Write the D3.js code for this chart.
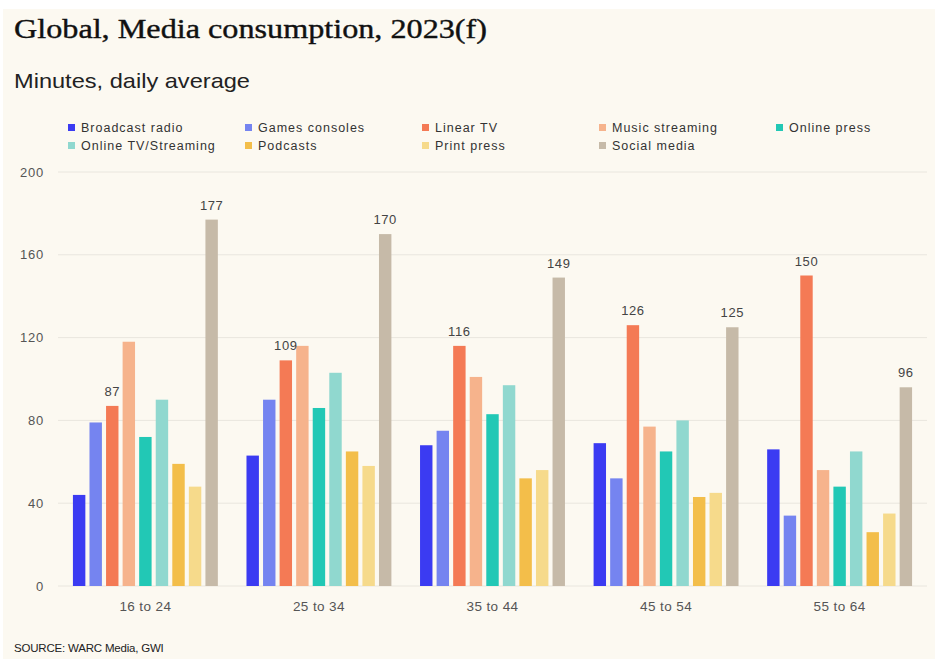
<!DOCTYPE html>
<html lang="en">
<head>
<meta charset="UTF-8">
<title>Global, Media consumption, 2023(f)</title>
<style>
body { margin: 0; background: #fff; }
svg { display: block; }
.title { font: 28px "Liberation Serif", serif; fill: #111; }
.subtitle { font: 21px "Liberation Sans", sans-serif; fill: #222; }
.legend text { font: 12.5px "Liberation Sans", sans-serif; fill: #333; letter-spacing: 1px; }
.axis text { font: 13px "Liberation Sans", sans-serif; fill: #555; letter-spacing: 0.8px; }
.label { font: 13px "Liberation Sans", sans-serif; fill: #444; letter-spacing: 0.6px; }
.source { font: 11.5px "Liberation Sans", sans-serif; fill: #222; letter-spacing: -0.2px; }
</style>
</head>
<body>
<svg width="935" height="659"></svg>
<script src="https://d3js.org/d3.v7.min.js"></script>
<script>
var ageGroups = ["16 to 24", "25 to 34", "35 to 44", "45 to 54", "55 to 64"];
var seriesNames = ["Broadcast radio", "Games consoles", "Linear TV", "Music streaming", "Online press",
                   "Online TV/Streaming", "Podcasts", "Print press", "Social media"];
var seriesColors = ["#3b3bf2", "#7584f0", "#f47a55", "#f6b38c", "#22c8b5",
                    "#90d8cf", "#f3be4a", "#f6da8b", "#c6baa8"];

// values per series, one per age group
var broadcastRadio = [44, 63, 68, 69, 66];
var gamesConsoles  = [79, 90, 75, 52, 34];
var linearTV       = [87, 109, 116, 126, 150];
var musicStreaming = [118, 116, 101, 77, 56];
var onlinePress    = [72, 86, 83, 65, 48];
var onlineTV       = [90, 103, 97, 80, 65];
var podcasts       = [59, 65, 52, 43, 26];
var printPress     = [48, 58, 56, 45, 35];
var socialMedia    = [177, 170, 149, 125, 96];
var seriesValues = [broadcastRadio, gamesConsoles, linearTV, musicStreaming, onlinePress,
                    onlineTV, podcasts, printPress, socialMedia];
var labelled = ["Linear TV", "Social media"];
var yTicks = [0, 40, 80, 120, 160, 200];

var svg = d3.select("svg"),
    width = +svg.attr("width"),
    height = +svg.attr("height");

svg.append("rect")
    .attr("x", 3).attr("y", 9)
    .attr("width", width - 3).attr("height", height - 9)
    .attr("fill", "#fcf9f1");

svg.append("text").attr("class", "title").attr("x", 14).attr("y", 38)
    .attr("textLength", 473).attr("lengthAdjust", "spacingAndGlyphs")
    .style("stroke", "#111").style("stroke-width", 0.4)
    .text("Global, Media consumption, 2023(f)");
svg.append("text").attr("class", "subtitle").attr("x", 14).attr("y", 88)
    .attr("textLength", 236).attr("lengthAdjust", "spacingAndGlyphs")
    .text("Minutes, daily average");

// legend, 5 columns x 2 rows
var legend = svg.append("g").attr("class", "legend");
seriesNames.forEach(function(name, i) {
    var col = i % 5, row = Math.floor(i / 5);
    var g = legend.append("g")
        .attr("transform", "translate(" + (68 + col * 177) + "," + (128 + row * 18) + ")");
    g.append("rect").attr("x", 0).attr("y", -4).attr("width", 7).attr("height", 7)
        .attr("fill", seriesColors[i]);
    g.append("text").attr("x", 13).attr("dy", "0.35em").text(name);
});

var y = d3.scaleLinear().domain([0, 200]).range([586, 172]);

var x0 = d3.scaleBand().domain(ageGroups)
    .range([58, 927])
    .paddingInner(0.165)
    .paddingOuter(0.086);

var x1 = d3.scaleBand().domain(seriesNames)
    .range([0, x0.bandwidth()])
    .paddingInner(0.25);

var color = d3.scaleOrdinal().domain(seriesNames).range(seriesColors);

// gridlines
svg.append("g")
    .selectAll("line")
    .data(yTicks)
    .join("line")
    .attr("x1", 58).attr("x2", 927)
    .attr("y1", function(d) { return y(d); })
    .attr("y2", function(d) { return y(d); })
    .attr("stroke", "#e9e6de")
    .attr("stroke-width", 1);

// y axis labels
var yAxis = svg.append("g").attr("class", "axis")
    .attr("transform", "translate(44,0)")
    .call(d3.axisLeft(y).tickValues(yTicks).tickSize(0).tickPadding(0));
yAxis.select(".domain").remove();

// x axis labels
var xAxis = svg.append("g").attr("class", "axis")
    .attr("transform", "translate(0,598)")
    .call(d3.axisBottom(x0).tickSize(0).tickPadding(3));
xAxis.select(".domain").remove();
xAxis.selectAll("text").style("font-size", "13.5px").style("letter-spacing", "0.4px");

var rows = [];
ageGroups.forEach(function(age, gi) {
    seriesNames.forEach(function(name, si) {
        rows.push({ age: age, series: name, value: seriesValues[si][gi] });
    });
});

var bars = svg.append("g");
bars.selectAll("rect")
    .data(rows)
    .join("rect")
    .attr("x", function(d) { return x0(d.age) + x1(d.series); })
    .attr("y", function(d) { return y(d.value); })
    .attr("width", x1.bandwidth())
    .attr("height", function(d) { return y(0) - y(d.value); })
    .attr("fill", function(d) { return color(d.series); });

svg.append("g")
    .selectAll("text")
    .data(rows.filter(function(d) { return labelled.indexOf(d.series) >= 0; }))
    .join("text")
    .attr("class", "label")
    .attr("text-anchor", "middle")
    .attr("x", function(d) { return x0(d.age) + x1(d.series) + x1.bandwidth() / 2; })
    .attr("y", function(d) { return y(d.value) - 10; })
    .text(function(d) { return d.value; });

svg.append("text").attr("class", "source").attr("x", 14).attr("y", 652)
    .text("SOURCE: WARC Media, GWI");
</script>
</body>
</html>
